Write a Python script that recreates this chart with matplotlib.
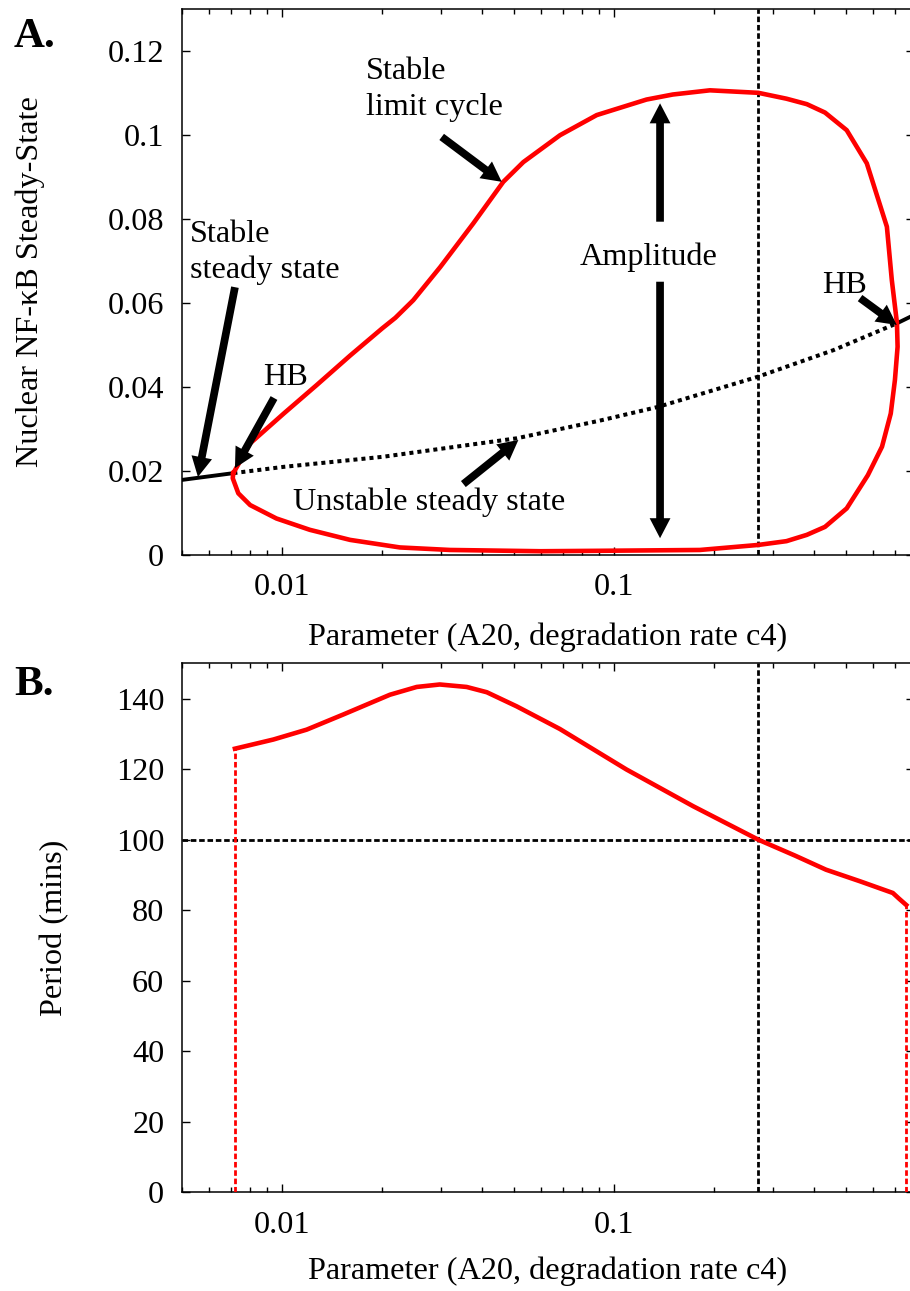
import numpy as np
import matplotlib
matplotlib.use('Agg')
from matplotlib import pyplot as plt
from matplotlib.ticker import LogLocator, NullFormatter

plt.rcParams['font.family'] = ['Liberation Serif', 'DejaVu Serif']
plt.rcParams['font.size'] = 23.2

# Grenselyklus (maks og min av kjernens NF-kB) mellom de to Hopf-punktene
lc_upper_x = [0.00712, 0.0080, 0.0101, 0.0127, 0.016, 0.0200, 0.0219,
              0.0248, 0.0299, 0.0376, 0.0463, 0.0532, 0.0686, 0.0885, 0.125,
              0.150, 0.194, 0.2715, 0.330, 0.380, 0.431, 0.501, 0.576, 0.662,
              0.685, 0.710]
lc_upper_y = [0.0195, 0.0266, 0.0337, 0.0405, 0.0475, 0.0540, 0.0565,
              0.0607, 0.0686, 0.0790, 0.0889, 0.0936, 0.1000, 0.1048, 0.1085,
              0.1097, 0.1107, 0.1101, 0.1087, 0.1074, 0.1054, 0.1012, 0.0933,
              0.0782, 0.0655, 0.0552]
lc_lower_x = [0.00712, 0.00709, 0.00737, 0.0080, 0.0096, 0.0121, 0.016, 0.0226,
              0.032, 0.060, 0.090, 0.181, 0.2715, 0.330, 0.380, 0.431, 0.501,
              0.580, 0.640, 0.680, 0.700, 0.713, 0.710]
lc_lower_y = [0.0195, 0.0183, 0.0147, 0.0119, 0.0087, 0.0060, 0.0036, 0.0018,
              0.0012, 0.0009, 0.0010, 0.0012, 0.0024, 0.0033, 0.0048, 0.0067,
              0.0111, 0.0190, 0.0258, 0.0337, 0.0417, 0.0496, 0.0552]

# Likevektskurven; stabil før første og etter andre HB
ss_x = [0.005, 0.00712, 0.0101, 0.0201, 0.0508, 0.0903, 0.1357, 0.2715,
        0.457, 0.710, 0.80]
ss_y = [0.0179, 0.0195, 0.0210, 0.0234, 0.0278, 0.0320, 0.0353, 0.0425,
        0.0488, 0.0552, 0.0572]
hb_lo, hb_hi = 1, 9

# Periode for svingningene
per_x = [0.0072, 0.0094, 0.01184, 0.01527, 0.0211, 0.0254, 0.0298, 0.0359,
         0.0413, 0.0508, 0.0685, 0.1088, 0.1727, 0.2715, 0.35, 0.434, 0.55,
         0.69, 0.72, 0.757]
per_y = [125.8, 128.4, 131.2, 135.5, 141.1, 143.3, 144.0, 143.3, 141.8,
         137.8, 131.4, 119.9, 109.5, 100.0, 95.5, 91.5, 88.2, 84.9, 83.3,
         81.5]

c4_valgt = 0.27
periode_ref = 100

xticks = [0.01, 0.1]
xticklabels = ['0.01', '0.1']
yticks_a = [0, 0.02, 0.04, 0.06, 0.08, 0.1, 0.12]
yticklabels_a = ['0', '0.02', '0.04', '0.06', '0.08', '0.1', '0.12']
yticks_b = [0, 20, 40, 60, 80, 100, 120, 140]

xlabel = 'Parameter (A20, degradation rate c4)'

fig = plt.figure(figsize=(9.1, 12.91), dpi=100)
axA = fig.add_axes([0.2004, 0.5701, 0.8042, 0.4227])
axB = fig.add_axes([0.2004, 0.0763, 0.8042, 0.4099])


def oppsett(ax):
    ax.set_xscale('log')
    ax.set_xlim(0.005, 0.8)
    ax.set_xticks(xticks)
    ax.set_xticklabels(xticklabels)
    ax.xaxis.set_minor_locator(LogLocator(base=10, subs=np.arange(2, 10)))
    ax.xaxis.set_minor_formatter(NullFormatter())
    ax.tick_params(which='both', direction='in', top=True, right=True,
                   width=1)
    ax.tick_params(which='major', length=5.8, pad=13)
    ax.tick_params(which='minor', length=3.6)
    for s in ax.spines.values():
        s.set_linewidth(1.1)


def pil(ax, hale, spiss):
    ax.annotate('', xy=spiss, xytext=hale, zorder=6,
                arrowprops=dict(arrowstyle='simple,head_length=0.48,'
                                'head_width=0.5,tail_width=0.185',
                                fc='black', ec='none', shrinkA=0, shrinkB=0,
                                mutation_scale=30))


# --- A ---
oppsett(axA)
axA.set_ylim(0, 0.13)
axA.set_yticks(yticks_a)
axA.set_yticklabels(yticklabels_a)

lc_x = np.concatenate([lc_upper_x, lc_lower_x[::-1]])
lc_y = np.concatenate([lc_upper_y, lc_lower_y[::-1]])
axA.plot(lc_x, lc_y, color='#ff0000', lw=3.3, zorder=4,
         solid_joinstyle='round')
axA.plot(ss_x[:hb_lo + 1], ss_y[:hb_lo + 1], color='black', lw=2.8, zorder=3)
axA.plot(ss_x[hb_hi:], ss_y[hb_hi:], color='black', lw=2.8, zorder=3)
axA.plot(ss_x[hb_lo:hb_hi + 1], ss_y[hb_lo:hb_hi + 1], color='black', lw=2.9,
         dashes=(1, 1), dash_capstyle='butt', zorder=3)
axA.axvline(c4_valgt, color='black', lw=2, dashes=(2, 1), zorder=2)

axA.text(0.00527, 0.0659, 'Stable\nsteady state', ha='left', va='baseline',
         linespacing=1.32)
pil(axA, (0.00720, 0.0638), (0.00557, 0.0186))
axA.text(0.00877, 0.0405, 'HB', ha='left', va='baseline')
pil(axA, (0.00944, 0.0374), (0.0072, 0.0207))
axA.text(0.01787, 0.1048, 'Stable\nlimit cycle', ha='left', va='baseline',
         linespacing=1.32)
pil(axA, (0.0302, 0.0996), (0.0458, 0.0889))
axA.text(0.0788, 0.06905, 'Amplitude', ha='left', va='baseline')
pil(axA, (0.1373, 0.0794), (0.1373, 0.1076))
pil(axA, (0.1373, 0.0651), (0.1373, 0.0040))
axA.text(0.4214, 0.0623, 'HB', ha='left', va='baseline')
pil(axA, (0.5497, 0.0612), (0.709, 0.0548))
axA.text(0.01079, 0.01071, 'Unstable steady state', ha='left',
         va='baseline')
pil(axA, (0.0351, 0.0169), (0.0514, 0.0274))

# --- B ---
oppsett(axB)
axB.set_ylim(0, 150)
axB.set_yticks(yticks_b)
axB.plot(per_x, per_y, color='#ff0000', lw=3.3, zorder=4,
         solid_joinstyle='round')
axB.plot([per_x[0], per_x[0]], [0, per_y[0]], color='#ff0000', lw=2,
         dashes=(2, 1), zorder=3)
axB.plot([per_x[-1], per_x[-1]], [0, per_y[-1]], color='#ff0000', lw=2,
         dashes=(2, 1), zorder=3)
axB.axvline(c4_valgt, color='black', lw=2, dashes=(2, 1), zorder=2)
axB.axhline(periode_ref, color='black', lw=2, dashes=(2, 1), zorder=2)

# Aksetitler og panelbokstaver
fig.text(30 / 910, 1 - 282 / 1291, 'Nuclear NF-κB Steady-State',
         rotation=90, ha='center', va='center')
fig.text(55 / 910, 1 - 928 / 1291, 'Period (mins)', rotation=90,
         ha='center', va='center')
fig.text(548 / 910, 1 - 637 / 1291, xlabel, ha='center', va='center')
fig.text(548 / 910, 1 - 1271 / 1291, xlabel, ha='center', va='center')
fig.text(14 / 910, 1 - 47 / 1291, 'A.', fontsize=31, fontweight='bold',
         va='baseline')
fig.text(14 / 910, 1 - 695 / 1291, 'B.', fontsize=31, fontweight='bold',
         va='baseline')

fig.savefig('out.png', dpi=100)
